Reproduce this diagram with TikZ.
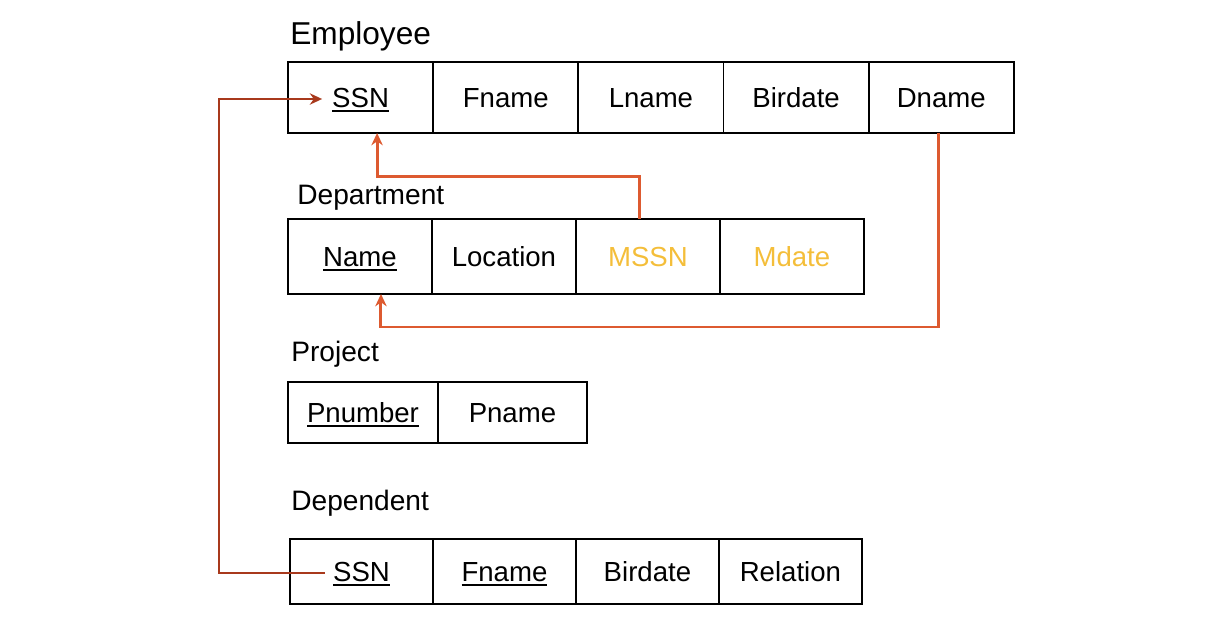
\documentclass[tikz,border=0pt]{standalone}
\usepackage{fontspec}
\setmainfont{Liberation Sans}
\usetikzlibrary{positioning,arrows.meta}

\definecolor{fkorange}{RGB}{221,90,48}
\definecolor{fkred}{RGB}{168,57,28}
\definecolor{fkyellow}{RGB}{244,190,58}

\newcommand{\keyattr}[1]{\setbox0\hbox{#1}\rlap{\rule[-2.4pt]{\wd0}{0.8pt}}\box0}

\tikzset{
    cell/.style={draw, line width=1.1pt, inner sep=0pt, outer sep=0pt, text height=11.2pt,
        text depth=0pt, font=\fontsize{15.7}{19}\selectfont},
    title/.style={anchor=base west, inner sep=0pt, font=\fontsize{16}{19}\selectfont},
    fk/.style={line width=1.7pt, fkorange, -{Stealth[length=7pt,width=6.5pt]}},
}

\begin{document}
\begin{tikzpicture}[x=0.02cm, y=-0.02cm]

    \useasboundingbox (0,0) rectangle (1232,630);

    % Employee
    \node[title, font=\fontsize{18}{21}\selectfont] (emptitle) at (290,44) {Employee};
    \begin{scope}[every node/.append style={minimum width=2.904cm, minimum height=1.42cm}]
        \node[cell, anchor=north west] (essn) at (288,62) {\keyattr{SSN}};
        \node[cell, right=0pt of essn] (efname) {Fname};
        \node[cell, right=0pt of efname] (elname) {Lname};
        \node[cell, right=0pt of elname] (ebdate) {Birdate};
        \node[cell, right=0pt of ebdate] (ednm) {Dname};
    \end{scope}

    % Department
    \node[title] (depttitle) at (297,204) {Department};
    \begin{scope}[every node/.append style={minimum width=2.88cm, minimum height=1.5cm}]
        \node[cell, anchor=north west] (dname) at (288,219) {\keyattr{Name}};
        \node[cell, right=0pt of dname] (dloc) {Location};
        \node[cell, right=0pt of dloc, text=fkyellow] (dmssn) {MSSN};
        \node[cell, right=0pt of dmssn, text=fkyellow] (dmdate) {Mdate};
    \end{scope}

    % Project
    \node[title] (projtitle) at (291,361) {Project};
    \begin{scope}[every node/.append style={minimum height=1.22cm}]
        \node[cell, anchor=north west, minimum width=3cm] (pnum) at (288,382) {\keyattr{Pnumber}};
        \node[cell, right=0pt of pnum, minimum width=2.98cm] (pname) {Pname};
    \end{scope}

    % Dependent
    \node[title] (deptitle) at (291,510) {Dependent};
    \begin{scope}[every node/.append style={minimum width=2.86cm, minimum height=1.3cm}]
        \node[cell, anchor=north west] (tssn) at (290,539) {\keyattr{SSN}};
        \node[cell, right=0pt of tssn] (tfname) {\keyattr{Fname}};
        \node[cell, right=0pt of tfname] (tbdate) {Birdate};
        \node[cell, right=0pt of tbdate] (trel) {Relation};
    \end{scope}

    % foreign keys
    \draw[fk] ([xshift=-0.16cm]dmssn.north) -- ++(0,-43) -| ([xshift=0.33cm]essn.south);
    \draw[fk] ([xshift=-0.05cm]ednm.south) -- ++(0,194) -| ([xshift=0.42cm]dname.south);
    \draw[fk, fkred, line width=1.4pt]
        ([xshift=-0.73cm, yshift=-0.03cm]tssn.center) -- ++(-106,0)
        |- ([xshift=-0.77cm, yshift=-0.03cm]essn.center);

\end{tikzpicture}
\end{document}
